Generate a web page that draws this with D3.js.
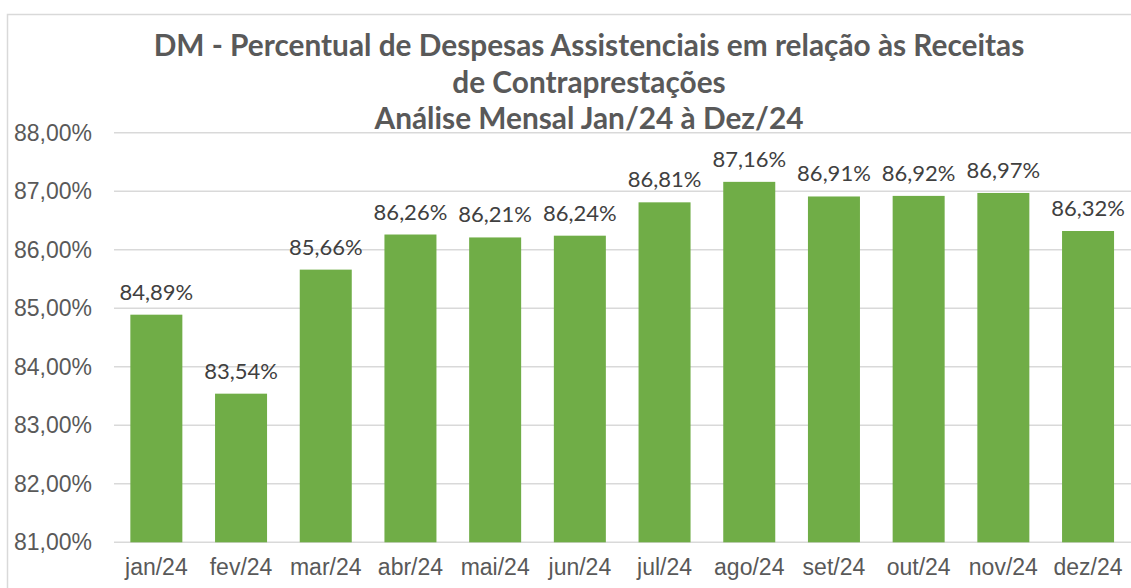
<!DOCTYPE html>
<html><head><meta charset="utf-8">
<script src="https://cdn.jsdelivr.net/npm/d3@7"></script>
<style>html,body{margin:0;padding:0;background:#fff;}svg{display:block;}</style>
</head><body>
<script>
const categories = ["jan/24","fev/24","mar/24","abr/24","mai/24","jun/24","jul/24","ago/24","set/24","out/24","nov/24","dez/24"];
const values = [84.89, 83.54, 85.66, 86.26, 86.21, 86.24, 86.81, 87.16, 86.91, 86.92, 86.97, 86.32];
const yTicks = [81, 82, 83, 84, 85, 86, 87, 88];
const titleLines = ["DM - Percentual de Despesas Assistenciais em relação às Receitas", "de Contraprestações", "Análise Mensal Jan/24 à Dez/24"];

const W = 1131, H = 588;
const svg = d3.select("body").append("svg").attr("width", W).attr("height", H);
const gray = "#595959";
const fmt = v => v.toFixed(2).replace(".", ",") + "%";

svg.append("rect").attr("x", 7.5).attr("y", 14.5).attr("width", 1300).attr("height", 800)
  .attr("fill", "#fff").attr("stroke", "#D9D9D9").attr("stroke-width", 1.5);

const x = d3.scaleBand().domain(categories).range([114, 1130.4]).paddingInner(0.386).paddingOuter(0.193);
const y = d3.scaleLinear().domain([81, 88]).range([542.3, 132.7]);

// gridlines
svg.append("g").selectAll("line").data(yTicks).join("line")
  .attr("x1", 114).attr("x2", 1131).attr("y1", d => y(d)).attr("y2", d => y(d))
  .attr("stroke", "#D9D9D9").attr("stroke-width", 1.5);

// y axis labels
const yAxis = d3.axisLeft(y).tickValues(yTicks).tickSize(0).tickPadding(0).tickFormat(d => d.toFixed(2).replace(".", ",") + "%");
const gy = svg.append("g").attr("transform", "translate(92,0)").call(yAxis);
gy.select(".domain").remove();
gy.selectAll("text").attr("fill", gray).style("font-family", "'Liberation Sans', Arial, sans-serif").style("font-size", "23px");

// x axis labels
const xAxis = d3.axisBottom(x).tickSize(0).tickPadding(0);
const gx = svg.append("g").attr("transform", "translate(0,557)").call(xAxis);
gx.select(".domain").remove();
gx.selectAll("text").attr("fill", gray).attr("dy", "0.78em").style("font-family", "'Liberation Sans', Arial, sans-serif").style("font-size", "23px");

// bars
svg.append("g").selectAll("rect").data(values).join("rect")
  .attr("x", (d, i) => x(categories[i])).attr("width", x.bandwidth())
  .attr("y", d => y(d)).attr("height", d => y(81) - y(d))
  .attr("fill", "#70AD47");

// data labels
svg.append("g").selectAll("text").data(values).join("text")
  .attr("x", (d, i) => x(categories[i]) + x.bandwidth() / 2)
  .attr("y", d => y(d) - 15)
  .attr("text-anchor", "middle").attr("fill", "#404040")
  .style("font-family", "Lato, 'Open Sans', sans-serif").style("font-size", "22px")
  .text(fmt);

// title
const titleY = [56, 92.5, 129];
svg.append("g").selectAll("text").data(titleLines).join("text")
  .attr("x", 589).attr("y", (d, i) => titleY[i])
  .attr("text-anchor", "middle").attr("fill", gray)
  .style("font-family", "Lato, 'Open Sans', sans-serif").style("font-weight", "bold").style("font-size", "29.8px")
  .text(d => d);
</script>
</body></html>
